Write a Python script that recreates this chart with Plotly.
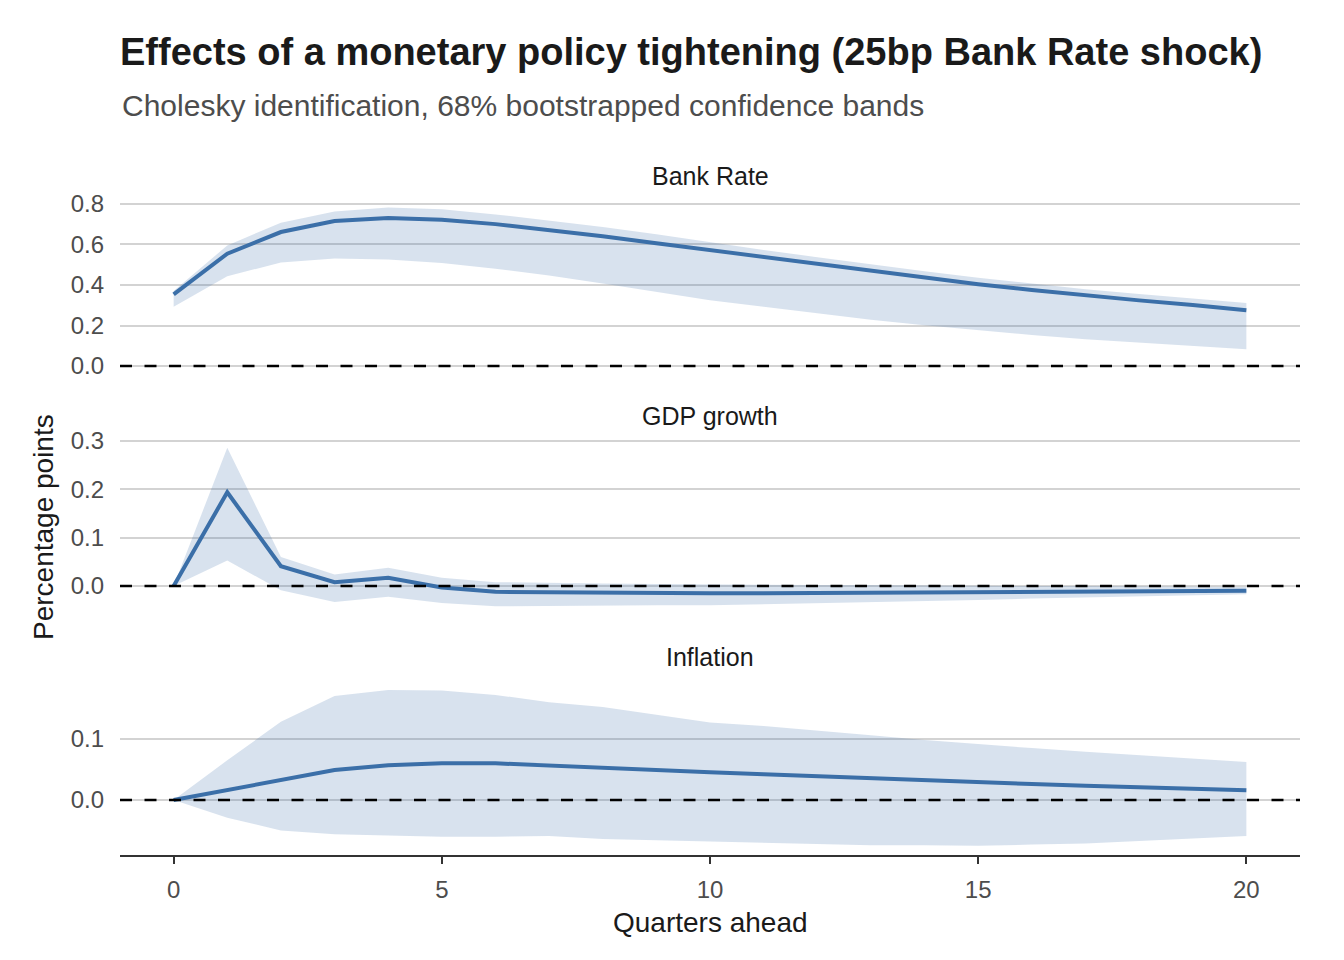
import plotly.graph_objects as go
from plotly.subplots import make_subplots

quarters = list(range(21))

panel_titles = ["Bank Rate", "GDP growth", "Inflation"]

bank_rate = [0.354, 0.554, 0.661, 0.715, 0.730, 0.721, 0.700, 0.672, 0.640, 0.606, 0.572,
             0.538, 0.503, 0.469, 0.436, 0.404, 0.375, 0.348, 0.324, 0.301, 0.275]
bank_rate_hi = [0.370, 0.595, 0.707, 0.762, 0.782, 0.773, 0.748, 0.718, 0.686, 0.650, 0.610,
                0.573, 0.537, 0.502, 0.468, 0.436, 0.406, 0.379, 0.355, 0.332, 0.311]
bank_rate_lo = [0.292, 0.443, 0.511, 0.531, 0.526, 0.508, 0.480, 0.447, 0.407, 0.366, 0.325,
                0.292, 0.259, 0.228, 0.202, 0.177, 0.153, 0.132, 0.115, 0.099, 0.083]

gdp = [0.0, 0.194, 0.041, 0.008, 0.017, -0.003, -0.012, -0.013, -0.0145, -0.015, -0.015,
       -0.0148, -0.0145, -0.014, -0.0135, -0.013, -0.0125, -0.012, -0.0115, -0.011, -0.010]
gdp_hi = [0.0, 0.286, 0.060, 0.024, 0.038, 0.017, 0.008, 0.006, 0.005, 0.004, 0.003,
          0.003, 0.002, 0.002, 0.001, 0.001, 0.0, 0.0, -0.001, -0.001, -0.002]
gdp_lo = [0.0, 0.053, -0.009, -0.033, -0.022, -0.035, -0.042, -0.041, -0.040, -0.040, -0.040,
          -0.038, -0.036, -0.033, -0.031, -0.029, -0.026, -0.024, -0.022, -0.019, -0.017]

inflation = [0.0, 0.016, 0.033, 0.049, 0.057, 0.060, 0.060, 0.056, 0.052, 0.048, 0.0455,
             0.042, 0.0385, 0.035, 0.0315, 0.029, 0.026, 0.0235, 0.021, 0.019, 0.016]
inflation_hi = [0.0, 0.065, 0.128, 0.170, 0.180, 0.179, 0.172, 0.160, 0.152, 0.140, 0.127,
                0.121, 0.114, 0.106, 0.098, 0.091, 0.085, 0.079, 0.073, 0.068, 0.062]
inflation_lo = [0.0, -0.029, -0.050, -0.056, -0.058, -0.060, -0.060, -0.059, -0.064, -0.066, -0.067,
                -0.070, -0.072, -0.074, -0.074, -0.075, -0.073, -0.071, -0.067, -0.063, -0.059]

x_ticks = [0, 5, 10, 15, 20]
y_ticks = [[0.0, 0.2, 0.4, 0.6, 0.8], [0.0, 0.1, 0.2, 0.3], [0.0, 0.1]]
y_ranges = [[-0.039, 0.819], [-0.0559, 0.3064], [-0.090, 0.198]]

series = [(bank_rate, bank_rate_lo, bank_rate_hi),
          (gdp, gdp_lo, gdp_hi),
          (inflation, inflation_lo, inflation_hi)]

LINE = "#3b6fa8"
BAND = "rgba(59,111,168,0.2)"
FONT = "Liberation Sans, Arial, sans-serif"

fig = make_subplots(rows=3, cols=1, shared_xaxes=True, vertical_spacing=0.08)

for i, (mid, lo, hi) in enumerate(series):
    r = i + 1
    fig.add_trace(go.Scatter(x=quarters, y=hi, mode="lines", line=dict(width=0, color=BAND),
                             showlegend=False, hoverinfo="skip"), row=r, col=1)
    fig.add_trace(go.Scatter(x=quarters, y=lo, mode="lines", line=dict(width=0, color=BAND),
                             fill="tonexty", fillcolor=BAND, showlegend=False, hoverinfo="skip"),
                  row=r, col=1)
    fig.add_trace(go.Scatter(x=quarters, y=mid, mode="lines", line=dict(width=4, color=LINE),
                             showlegend=False), row=r, col=1)
    fig.add_hline(y=0, line=dict(color="black", width=2.5, dash="12px,12.5px"), row=r, col=1)

# page offset (body margin) of 8px is compensated in margins
OFF = 8
# target plot area on screen: x 120..1300, y 200..855
H_TOP, H_BOT = 200, 855
PH = H_BOT - H_TOP
def py(pix):
    return (H_BOT - pix) / PH

domains = [[py(374), 1.0], [py(613), py(438)], [0.0, py(679)]]

for i in range(3):
    yname = "yaxis" if i == 0 else f"yaxis{i+1}"
    xname = "xaxis" if i == 0 else f"xaxis{i+1}"
    fig.layout[yname].update(
        domain=domains[i], range=y_ranges[i], tickvals=y_ticks[i], tickformat=".1f",
        showgrid=True, gridcolor="#d3d3d3", gridwidth=1.5, zeroline=False, showline=False,
        ticks="", ticklabelstandoff=15, tickfont=dict(size=24, color="#4d4d4d", family=FONT),
    )
    fig.layout[xname].update(range=[-1, 21], showgrid=False, zeroline=False)

fig.layout["xaxis3"].update(
    showline=True, linecolor="#333333", linewidth=2, ticks="outside", ticklen=7,
    tickwidth=1.5, tickcolor="#333333", tickvals=x_ticks, showticklabels=True,
    ticklabelstandoff=5, tickfont=dict(size=24, color="#4d4d4d", family=FONT),
)
fig.layout["xaxis"].update(showticklabels=False, ticks="")
fig.layout["xaxis2"].update(showticklabels=False, ticks="")

annotations = []
strip_y = [176, 416, 657]
for t, yp in zip(panel_titles, strip_y):
    annotations.append(dict(text=t, xref="paper", yref="paper", x=0.5, y=py(yp),
                            xanchor="center", yanchor="middle", showarrow=False,
                            font=dict(size=25, color="#1a1a1a", family=FONT)))
annotations.append(dict(text="Cholesky identification, 68% bootstrapped confidence bands",
                        xref="paper", yref="paper", x=0, y=py(105), xanchor="left",
                        yanchor="middle", showarrow=False,
                        font=dict(size=30, color="#4d4d4d", family=FONT)))
annotations.append(dict(text="Quarters ahead", xref="paper", yref="paper", x=0.5, y=py(922),
                        xanchor="center", yanchor="middle", showarrow=False,
                        font=dict(size=28, color="#1a1a1a", family=FONT)))
annotations.append(dict(text="Percentage points", xref="paper", yref="paper",
                        x=(43 - 120) / 1180, y=py(527), xanchor="center", yanchor="middle",
                        textangle=-90, showarrow=False,
                        font=dict(size=28, color="#1a1a1a", family=FONT)))

fig.update_layout(
    width=1344, height=960,
    margin=dict(l=120 - OFF, r=1344 + OFF - 1300, t=H_TOP - OFF, b=960 + OFF - H_BOT),
    paper_bgcolor="white", plot_bgcolor="white",
    font=dict(family=FONT),
    title=dict(text="<b>Effects of a monetary policy tightening (25bp Bank Rate shock)</b>",
               xref="container", yref="container", x=(120 - OFF) / 1344, xanchor="left",
               y=1 - (52 - OFF) / 960, yanchor="middle",
               font=dict(size=38, color="#1a1a1a", family=FONT)),
    annotations=annotations,
    showlegend=False,
)

fig.write_html("out.html")
